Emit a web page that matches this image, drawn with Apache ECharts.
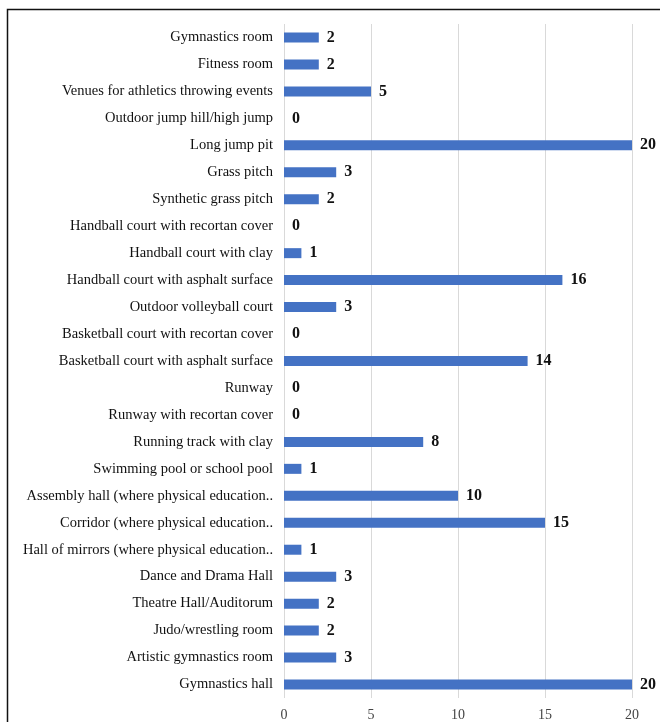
<!DOCTYPE html>
<html><head><meta charset="utf-8">
<script src="https://cdn.jsdelivr.net/npm/echarts@6/dist/echarts.min.js"></script>
<style>html,body{margin:0;padding:0;background:#fff;}#c{width:660px;height:722px;}</style>
</head><body><div id="c"></div>
<script>
var categories = [
  "Gymnastics room","Fitness room","Venues for athletics throwing events","Outdoor jump hill/high jump",
  "Long jump pit","Grass pitch","Synthetic grass pitch","Handball court with recortan cover",
  "Handball court with clay","Handball court with asphalt surface","Outdoor volleyball court",
  "Basketball court with recortan cover","Basketball court with asphalt surface","Runway",
  "Runway with recortan cover","Running track with clay","Swimming pool or school pool",
  "Assembly hall (where physical education..","Corridor (where physical education..",
  "Hall of mirrors (where physical education..","Dance and Drama Hall","Theatre Hall/Auditorum",
  "Judo/wrestling room","Artistic gymnastics room","Gymnastics hall"
];
var values = [2,2,5,0,20,3,2,0,1,16,3,0,14,0,0,8,1,10,15,1,3,2,2,3,20];
var xTicks = [0,5,10,15,20];

var chart = echarts.init(document.getElementById('c'), null, {renderer:'canvas'});
chart.setOption({
  animation:false,
  backgroundColor:'#fff',
  graphic:[{type:'rect',shape:{x:7.5,y:9.5,width:700,height:800},style:{fill:'none',stroke:'#111',lineWidth:1.5},z:-1}],
  grid:{left:284,right:28,top:24,bottom:23,containLabel:false},
  xAxis:{type:'value',min:xTicks[0],max:xTicks[xTicks.length-1],interval:5,
    axisLine:{show:false},axisTick:{show:false},
    splitLine:{lineStyle:{color:'#d9d9d9',width:1}},
    axisLabel:{color:'#444',fontFamily:'Liberation Serif',fontSize:14,margin:10}},
  yAxis:{type:'category',data:categories,inverse:true,
    axisLine:{show:false},axisTick:{show:false},
    axisLabel:{color:'#111',fontFamily:'Liberation Serif',fontSize:14.5,margin:11}},
  series:[{type:'bar',data:values,barWidth:10,
    itemStyle:{color:'#4472C4'},
    label:{show:true,position:'right',distance:8,color:'#111',fontFamily:'Liberation Serif',fontWeight:'bold',fontSize:16}}]
});
</script></body></html>
